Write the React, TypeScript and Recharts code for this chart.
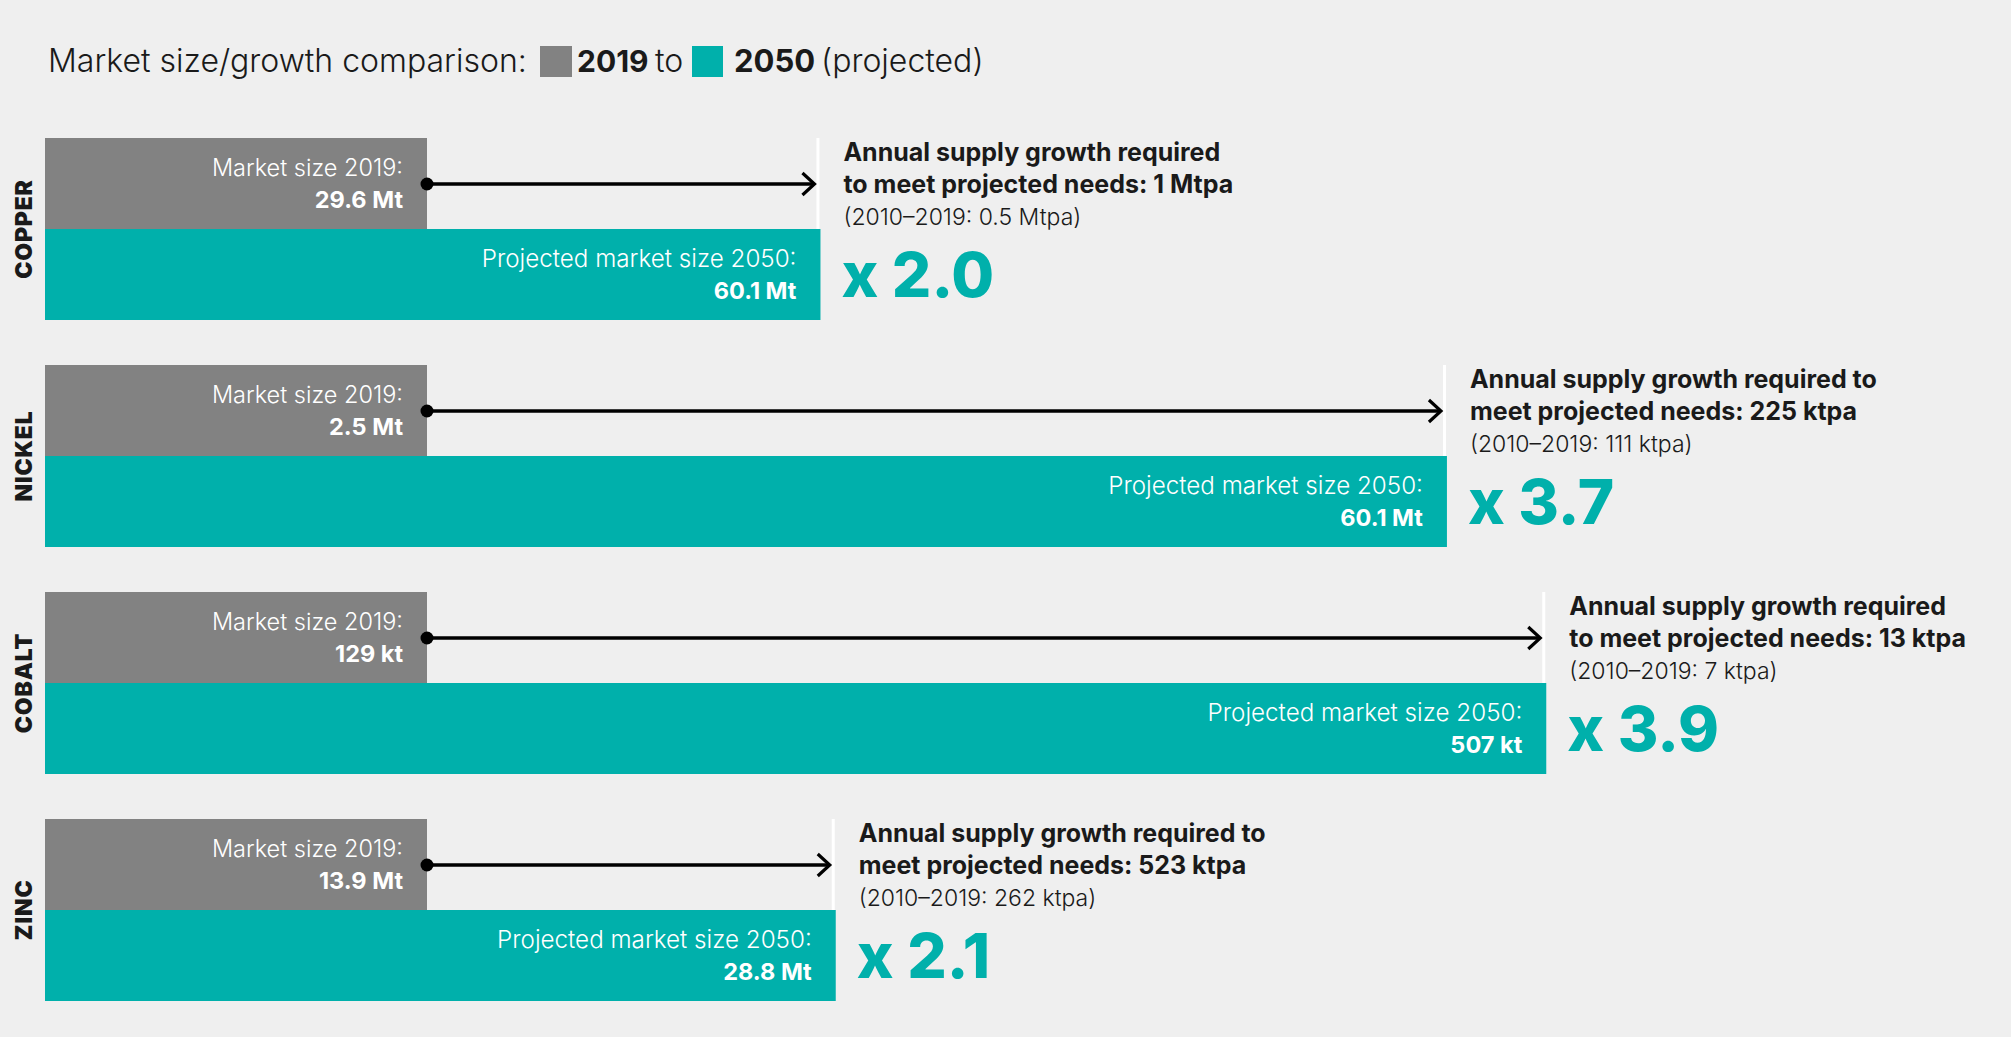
import React from 'react';
import { BarChart, Bar, XAxis, YAxis } from 'recharts';

// ---- data ----
const categories = ['COPPER', 'NICKEL', 'COBALT', 'ZINC'];
// market size indexed to 2019 = 1 (bar lengths)
const index2019 = [1, 1, 1, 1];
const index2050 = [2.03, 3.67, 3.93, 2.07];
const size2019Labels = ['29.6 Mt', '2.5 Mt', '129 kt', '13.9 Mt'];
const size2050Labels = ['60.1 Mt', '60.1 Mt', '507 kt', '28.8 Mt'];
const growthLine1 = [
  'Annual supply growth required',
  'Annual supply growth required to',
  'Annual supply growth required',
  'Annual supply growth required to',
];
const growthLine2 = [
  'to meet projected needs: 1 Mtpa',
  'meet projected needs: 225 ktpa',
  'to meet projected needs: 13 ktpa',
  'meet projected needs: 523 ktpa',
];
const historicGrowth = [
  '(2010\u20132019: 0.5 Mtpa)',
  '(2010\u20132019: 111 ktpa)',
  '(2010\u20132019: 7 ktpa)',
  '(2010\u20132019: 262 ktpa)',
];
const multipliers = ['x 2.0', 'x 3.7', 'x 3.9', 'x 2.1'];
const label2019 = 'Market size 2019:';
const label2050 = 'Projected market size 2050:';

const data = categories.map((name, i) => ({
  name,
  v2019: index2019[i],
  v2050: index2050[i],
}));

// ---- styles ----
const BG = '#efefef';
const GRAY = '#828282';
const TEAL = '#00b0ab';
const TEXT = '#1a1a1a';
const FONT = 'Inter, "Noto Sans", sans-serif';

const idxOf = (p: any) => {
  if (p && p.payload && p.payload.name) return categories.indexOf(p.payload.name);
  return p.index ?? 0;
};

const GrayShape = (p: any) => {
  const { x, y, width, height } = p;
  const right = x + width;
  const i = idxOf(p);
  return (
    <g>
      <rect x={x} y={y} width={width} height={height} fill={GRAY} />
      <text x={right - 24} y={y + 37.7} textAnchor="end" fill="#fff" fontFamily={FONT} fontWeight={300} fontSize={23.5}>
        {label2019}
      </text>
      <text x={right - 24} y={y + 70.3} textAnchor="end" fill="#fff" fontFamily={FONT} fontWeight={700} fontSize={23.5}>
        {size2019Labels[i]}
      </text>
    </g>
  );
};

const TealShape = (p: any) => {
  const { x, y, width, height } = p;
  const i = idxOf(p);
  const right = x + width;
  const grayRight = x + (width * index2019[i]) / index2050[i];
  const top = y - height; // top of the 2019 bar directly above
  const ay = top + height / 2 + 0.5;
  const tip = right - 6;
  const tx = right + 23;
  return (
    <g>
      <rect x={x} y={y} width={width} height={height} fill={TEAL} />
      <text x={right - 24} y={y + 37.7} textAnchor="end" fill="#fff" fontFamily={FONT} fontWeight={300} fontSize={24.2}>
        {label2050}
      </text>
      <text x={right - 24} y={y + 70.3} textAnchor="end" fill="#fff" fontFamily={FONT} fontWeight={700} fontSize={23.5}>
        {size2050Labels[i]}
      </text>
      {/* white divider */}
      <rect x={right - 4} y={top} width={3} height={height} fill="#ffffff" />
      {/* arrow */}
      <line x1={grayRight} y1={ay} x2={tip - 1.5} y2={ay} stroke="#000" strokeWidth={3.5} />
      <path d={`M ${tip - 12} ${ay - 11} L ${tip} ${ay} L ${tip - 12} ${ay + 11}`} fill="none" stroke="#000" strokeWidth={3.2} />
      <circle cx={grayRight} cy={ay} r={6.5} fill="#000" />
      {/* annotation */}
      <text x={tx} y={top + 23} fill={TEXT} fontFamily={FONT} fontWeight={700} fontSize={25}>
        {growthLine1[i]}
      </text>
      <text x={tx} y={top + 54.5} fill={TEXT} fontFamily={FONT} fontWeight={700} fontSize={25}>
        {growthLine2[i]}
      </text>
      <text x={tx} y={top + 86.5} fill={TEXT} fontFamily={FONT} fontWeight={300} fontSize={23}>
        {historicGrowth[i]}
      </text>
      <text x={tx - 2} y={top + 159} fill={TEAL} fontFamily={FONT} fontWeight={800} fontSize={62}>
        {multipliers[i]}
      </text>
    </g>
  );
};

const CategoryTick = (p: any) => {
  const { y, payload } = p;
  return (
    <text
      x={0}
      y={0}
      transform={`translate(32, ${y}) rotate(-90)`}
      textAnchor="middle"
      fill={TEXT}
      fontFamily={FONT}
      fontWeight={900}
      fontSize={23}
      letterSpacing={0.8}
    >
      {payload.value}
    </text>
  );
};

const Title = () => (
  <svg width={2011} height={110} style={{ position: 'absolute', left: 0, top: 0, pointerEvents: 'none' }}>
    <text x={48} y={72} fill={TEXT} fontFamily={FONT} fontWeight={300} fontSize={32}>
      Market size/growth comparison:
    </text>
    <rect x={540} y={46} width={32} height={31} fill={GRAY} />
    <text x={577} y={72} fill={TEXT} fontFamily={FONT} fontWeight={700} fontSize={30}>
      2019
    </text>
    <text x={655} y={72} fill={TEXT} fontFamily={FONT} fontWeight={300} fontSize={32}>
      to
    </text>
    <rect x={692} y={46} width={31} height={31} fill={TEAL} />
    <text x={734} y={72} fill={TEXT} fontFamily={FONT} fontWeight={700} fontSize={31}>
      2050
    </text>
    <text x={821} y={72} fill={TEXT} fontFamily={FONT} fontWeight={300} fontSize={32}>
      (projected)
    </text>
  </svg>
);

export default function App() {
  return (
    <div style={{ position: 'absolute', left: 0, top: 0, width: 2011, height: 1037, background: BG, fontFamily: FONT }}>
      <BarChart
        width={2011}
        height={1037}
        data={data}
        layout="vertical"
        margin={{ top: 115.5, right: 56, bottom: 13.5, left: 0 }}
        barGap={0}
        barCategoryGap={22.5}
      >
        <XAxis type="number" domain={[0, 5]} hide />
        <YAxis
          type="category"
          dataKey="name"
          width={45}
          axisLine={false}
          tickLine={false}
          interval={0}
          tick={(props: any) => <CategoryTick {...props} />}
        />
        <Bar dataKey="v2019" fill={GRAY} isAnimationActive={false} shape={GrayShape} />
        <Bar dataKey="v2050" fill={TEAL} isAnimationActive={false} shape={TealShape} />
      </BarChart>
      <Title />
    </div>
  );
}
